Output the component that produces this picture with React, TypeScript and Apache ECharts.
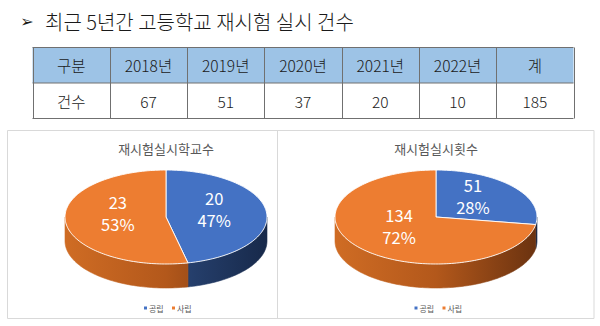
import React, { useEffect, useRef } from 'react';
import * as echarts from 'echarts';

const pageTitle = '최근 5년간 고등학교 재시험 실시 건수';
const bullet = '➢';
const headerLabel = '구분';
const rowLabel = '건수';
const totalLabel = '계';
const years = ['2018년', '2019년', '2020년', '2021년', '2022년'];
const yearCounts = [67, 51, 37, 20, 10];

const pieCategories = ['공립', '사립'];
const schoolCounts = [20, 23];
const examCounts = [51, 134];
const pieTitles = ['재시험실시학교수', '재시험실시횟수'];

const TOP_COLORS = ['#4472C4', '#ED7D31'];
const SIDE_STOPS = [
  [
    { offset: 0, color: '#3a5f9f' },
    { offset: 0.5, color: '#2a4677' },
    { offset: 1, color: '#17294a' },
  ],
  [
    { offset: 0, color: '#cf6c24' },
    { offset: 0.5, color: '#b3581b' },
    { offset: 1, color: '#6a3210' },
  ],
];
const FONT = '"Noto Sans CJK KR", "Noto Sans", sans-serif';

function pieSeries(values: number[], cx: number, cy: number, rx: number, ry: number, depth: number, name: string) {
  const total = values.reduce((a, b) => a + b, 0);
  let acc = 0;
  const data = values.map((v, i) => {
    const s = acc / total;
    acc += v;
    return [s, acc / total, v, i];
  });
  const grads = SIDE_STOPS.map((stops) => ({
    type: 'linear',
    x: cx - rx,
    y: 0,
    x2: cx + rx,
    y2: 0,
    global: true,
    colorStops: stops,
  }));
  return {
    type: 'custom',
    name,
    coordinateSystem: 'none',
    silent: true,
    data,
    renderItem: (params: any, api: any) => {
      const s = api.value(0) * 2 * Math.PI;
      const e = api.value(1) * 2 * Math.PI;
      const v = api.value(2);
      const idx = api.value(3);
      const pt = (t: number, dy = 0) => [cx + rx * Math.sin(t), cy - ry * Math.cos(t) + dy];
      const arc = (a: number, b: number, dy = 0) => {
        const n = Math.max(2, Math.ceil((b - a) / (Math.PI / 120)));
        const pts: number[][] = [];
        for (let k = 0; k <= n; k++) pts.push(pt(a + ((b - a) * k) / n, dy));
        return pts;
      };
      const children: any[] = [];
      const fs = Math.max(s, Math.PI / 2);
      const fe = Math.min(e, (3 * Math.PI) / 2);
      if (fe > fs) {
        const top = arc(fs, fe);
        const bottom = arc(fs, fe, depth).reverse();
        children.push({
          type: 'polygon',
          z2: 1,
          shape: { points: top.concat(bottom) },
          style: { fill: grads[idx], stroke: grads[idx], lineWidth: 0.6 },
        });
      }
      children.push({
        type: 'polygon',
        z2: 5,
        shape: { points: [[cx, cy]].concat(arc(s, e)) },
        style: { fill: TOP_COLORS[idx], stroke: '#ffffff', lineWidth: 0.9, lineJoin: 'round' },
      });
      const mid = (s + e) / 2;
      const f = 0.48;
      const pct = Math.round((v / total) * 100);
      children.push({
        type: 'text',
        z2: 10,
        x: cx + rx * f * Math.sin(mid),
        y: cy - ry * f * Math.cos(mid) - 6,
        style: {
          text: `${v}\n${pct}%`,
          fill: '#ffffff',
          fontSize: 16.5,
          fontFamily: FONT,
          lineHeight: 22,
          align: 'center',
          verticalAlign: 'middle',
        },
      });
      return { type: 'group', children };
    },
  };
}

function legend(cxCenter: number, y: number) {
  const els: any[] = [];
  const starts = [cxCenter - 24, cxCenter + 4];
  pieCategories.forEach((c, i) => {
    els.push({
      type: 'rect',
      shape: { x: starts[i], y: y - 1.5, width: 3, height: 3 },
      style: { fill: TOP_COLORS[i] },
    });
    els.push({
      type: 'text',
      x: starts[i] + 5,
      y,
      style: { text: c, fill: '#595959', fontSize: 8, fontFamily: FONT, verticalAlign: 'middle', align: 'left' },
    });
  });
  return els;
}

export default function App() {
  const ref = useRef<HTMLDivElement>(null);
  useEffect(() => {
    if (!ref.current) return;
    const chart = echarts.init(ref.current, null, { renderer: 'svg' });
    const graphics: any[] = [];

    // Page title
    graphics.push({
      type: 'text',
      x: 27,
      y: 21,
      style: { text: bullet, fill: '#1a1a1a', fontSize: 16, fontFamily: 'DejaVu Sans', align: 'center', verticalAlign: 'middle' },
    });
    graphics.push({
      type: 'text',
      x: 45,
      y: 21,
      style: { text: pageTitle, fill: '#1a1a1a', fontSize: 20, fontWeight: 300, fontFamily: FONT, align: 'left', verticalAlign: 'middle' },
    });

    // Table
    const x0 = 32.5;
    const y0 = 47.5;
    const yMid = 83;
    const y1 = 118.5;
    const headers = [headerLabel, ...years, totalLabel];
    const total = yearCounts.reduce((a, b) => a + b, 0);
    const rowVals = [rowLabel, ...yearCounts.map(String), String(total)];
    const ncol = headers.length;
    const cw = (573.5 - x0) / ncol;
    graphics.push({
      type: 'rect',
      shape: { x: x0, y: y0, width: cw * ncol, height: yMid - y0 },
      style: { fill: '#9DC3E6' },
    });
    const lineStyle = { stroke: '#707070', lineWidth: 1 };
    [y0, yMid, y1].forEach((yy) =>
      graphics.push({ type: 'line', shape: { x1: x0, y1: yy, x2: x0 + cw * ncol, y2: yy }, style: lineStyle })
    );
    for (let i = 0; i <= ncol; i++) {
      const xx = Math.round(x0 + cw * i) + 0.5;
      graphics.push({ type: 'line', shape: { x1: xx, y1: y0, x2: xx, y2: y1 }, style: lineStyle });
    }
    headers.forEach((h, i) => {
      graphics.push({
        type: 'text',
        x: x0 + cw * (i + 0.5),
        y: (y0 + yMid) / 2,
        style: { text: h, fill: '#1a1a1a', fontSize: 15.5, fontWeight: 300, fontFamily: FONT, align: 'center', verticalAlign: 'middle' },
      });
    });
    rowVals.forEach((h, i) => {
      graphics.push({
        type: 'text',
        x: x0 + cw * (i + 0.5),
        y: (yMid + y1) / 2,
        style: { text: h, fill: '#1a1a1a', fontSize: 15.5, fontWeight: 300, fontFamily: FONT, align: 'center', verticalAlign: 'middle' },
      });
    });

    // Chart panels
    graphics.push({
      type: 'rect',
      shape: { x: 7.5, y: 130.5, width: 586.5, height: 188 },
      style: { fill: 'none', stroke: '#d9d9d9', lineWidth: 1 },
    });
    graphics.push({
      type: 'line',
      shape: { x1: 277.5, y1: 130.5, x2: 277.5, y2: 318.5 },
      style: { stroke: '#d9d9d9', lineWidth: 1 },
    });
    const pieCx = [166, 436];
    pieTitles.forEach((t, i) => {
      graphics.push({
        type: 'text',
        x: pieCx[i],
        y: 148,
        style: { text: t, fill: '#595959', fontSize: 13, fontFamily: FONT, align: 'center', verticalAlign: 'middle' },
      });
    });
    graphics.push(...legend(168, 308));
    graphics.push(...legend(438.5, 308));

    chart.setOption({
      animation: false,
      backgroundColor: '#ffffff',
      graphic: { elements: graphics },
      series: [
        pieSeries(schoolCounts, pieCx[0], 217, 101, 47, 24, pieTitles[0]),
        pieSeries(examCounts, pieCx[1], 217, 101, 47, 24, pieTitles[1]),
      ],
    });
    return () => chart.dispose();
  }, []);
  return (
    <div
      ref={ref}
      style={{ position: 'absolute', left: 0, top: 0, width: 600, height: 326, background: '#fff' }}
    />
  );
}
